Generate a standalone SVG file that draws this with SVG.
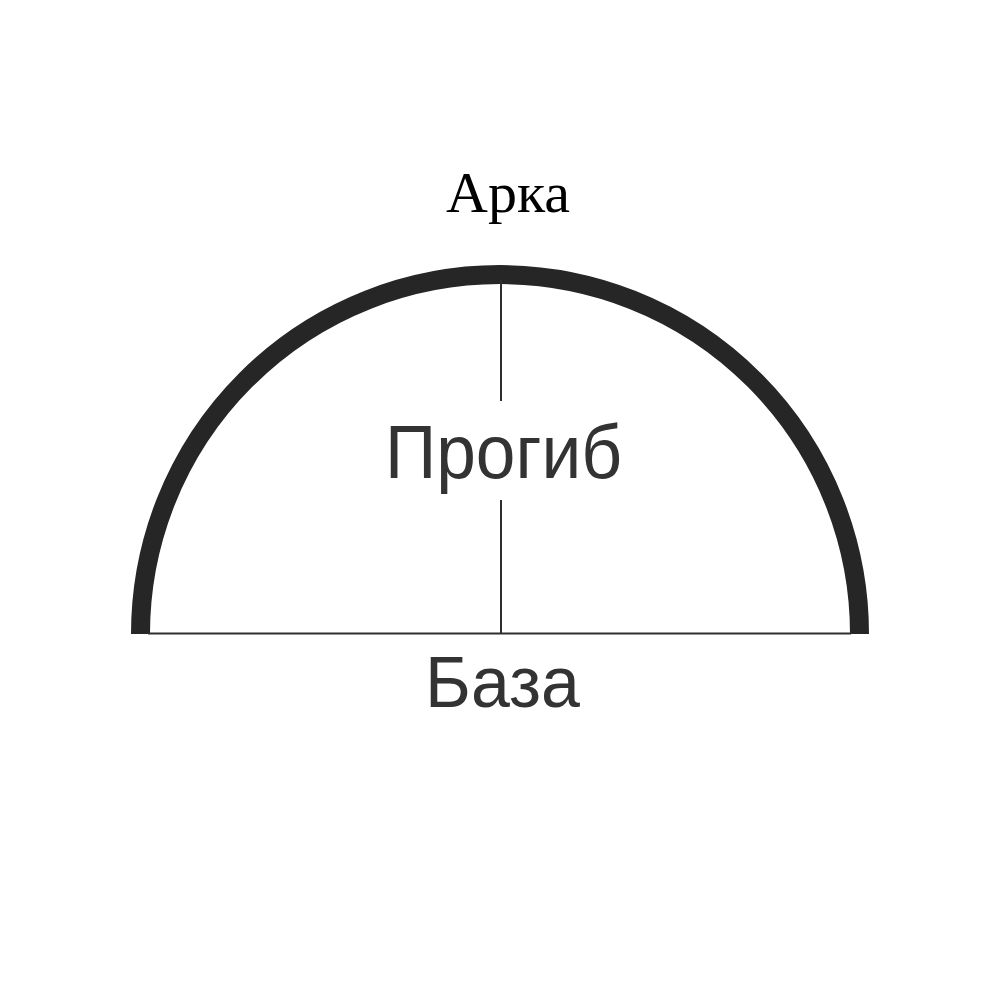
<svg xmlns="http://www.w3.org/2000/svg" width="1000" height="1000" viewBox="0 0 1000 1000">
<style>
.arc{fill:none;stroke:#262626;stroke-width:19}
.thin{stroke:#2e2e2e;stroke-width:2;fill:none}
.sans{font-family:"Liberation Sans",Arial,sans-serif;fill:#333333}
.serif{font-family:"Liberation Serif","Times New Roman",serif;fill:#000000}
</style>
<rect width="1000" height="1000" fill="#ffffff"/>
<g id="arch">
<path class="arc" d="M140.5 634 A359.5 359.5 0 0 1 859.5 634"/>
</g>
<g id="connectors">
<line class="thin" x1="148" y1="633.5" x2="851" y2="633.5"/>
<line class="thin" x1="501" y1="280" x2="501" y2="401"/>
<line class="thin" x1="501" y1="500" x2="501" y2="634"/>
</g>
<g id="label-arka">
<text class="serif" x="508" y="212" font-size="58" text-anchor="middle">Арка</text>
</g>
<g id="label-progib">
<text class="sans" x="385" y="478" font-size="76" textLength="237" lengthAdjust="spacingAndGlyphs">Прогиб</text>
</g>
<g id="label-baza">
<text class="sans" x="425" y="707" font-size="73" textLength="155" lengthAdjust="spacingAndGlyphs">База</text>
</g>
</svg>
